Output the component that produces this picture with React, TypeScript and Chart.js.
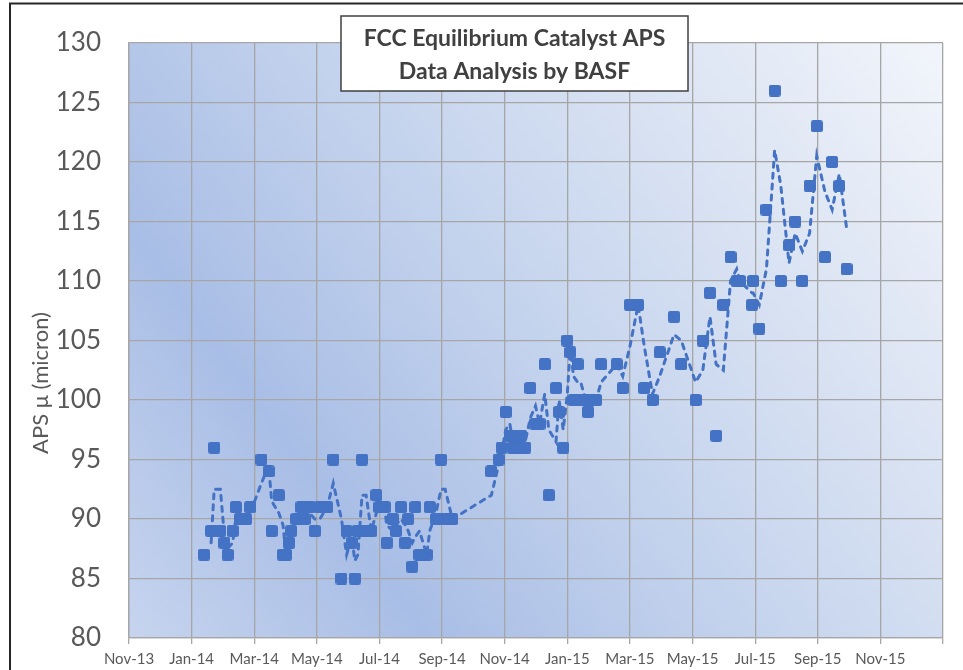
import React, { useEffect, useRef } from "react";
import { Chart, registerables } from "chart.js";

Chart.register(...registerables);

// ---------------- DATA ----------------
const sampleDates: string[] = [
  "2014-01-13", "2014-01-20", "2014-01-23", "2014-01-29", "2014-02-02", "2014-02-05",
  "2014-02-10", "2014-02-13", "2014-02-17", "2014-02-23", "2014-02-27", "2014-03-10",
  "2014-03-17", "2014-03-20", "2014-03-27", "2014-03-31", "2014-04-03", "2014-04-06",
  "2014-04-08", "2014-04-13", "2014-04-18", "2014-04-21", "2014-04-26", "2014-05-01",
  "2014-05-06", "2014-05-13", "2014-05-19", "2014-05-27", "2014-06-01", "2014-06-06",
  "2014-06-09", "2014-06-12", "2014-06-16", "2014-06-20", "2014-06-25", "2014-06-30",
  "2014-07-03", "2014-07-08", "2014-07-10", "2014-07-16", "2014-07-19", "2014-07-24",
  "2014-07-28", "2014-07-31", "2014-08-04", "2014-08-07", "2014-08-11", "2014-08-18",
  "2014-08-21", "2014-08-27", "2014-09-01", "2014-09-05", "2014-09-12",
  "2014-10-20", "2014-10-27", "2014-10-30", "2014-11-03", "2014-11-07", "2014-11-10",
  "2014-11-13", "2014-11-16", "2014-11-18", "2014-11-22", "2014-11-27", "2014-12-02",
  "2014-12-06", "2014-12-11", "2014-12-15", "2014-12-22", "2014-12-25", "2014-12-29",
  "2015-01-02", "2015-01-05", "2015-01-08", "2015-01-12", "2015-01-15", "2015-01-20",
  "2015-01-22", "2015-01-27", "2015-01-30", "2015-02-04", "2015-02-19", "2015-02-25",
  "2015-03-04", "2015-03-12", "2015-03-18", "2015-03-26", "2015-04-02", "2015-04-16",
  "2015-04-23", "2015-05-07", "2015-05-14", "2015-05-21", "2015-05-27", "2015-06-03",
  "2015-06-10", "2015-06-16", "2015-06-19", "2015-07-01", "2015-07-02", "2015-07-08",
  "2015-07-15", "2015-07-23", "2015-07-29", "2015-08-06", "2015-08-12", "2015-08-19",
  "2015-08-26", "2015-09-02", "2015-09-10", "2015-09-17", "2015-09-24", "2015-10-01",
];

const apsValues: number[] = [
  87, 89, 96, 89, 88, 87,
  89, 91, 90, 90, 91, 95,
  94, 89, 92, 87, 87, 88,
  89, 90, 91, 90, 91, 89,
  91, 91, 95, 85, 89, 88,
  85, 89, 95, 89, 89, 92,
  91, 91, 88, 90, 89, 91,
  88, 90, 86, 91, 87, 87,
  91, 90, 95, 90, 90,
  94, 95, 96, 99, 97, 96,
  97, 96, 97, 96, 101, 98,
  98, 103, 92, 101, 99, 96,
  105, 104, 100, 103, 100, 100,
  99, 100, 100, 103, 103, 101,
  108, 108, 101, 100, 104, 107,
  103, 100, 105, 109, 97, 108,
  112, 110, 110, 108, 110, 106,
  116, 126, 110, 113, 115, 110,
  118, 123, 112, 120, 118, 111,
];

const movingAveragePeriod = 2;

const axisStartDate = "2013-11-01";
const xTickStepDays = 61;
const xAxisEndDays = 793;
const yMin = 80;
const yMax = 130;
const yStep = 5;

const titleLines: string[] = ["FCC Equilibrium Catalyst APS", "Data Analysis by BASF"];
const yAxisTitle = "APS μ (micron)";
const monthNames: string[] = ["Jan", "Feb", "Mar", "Apr", "May", "Jun", "Jul", "Aug", "Sep", "Oct", "Nov", "Dec"];

// ---------------- HELPERS ----------------
const DAY_MS = 86400000;
const epoch = Date.parse(axisStartDate + "T00:00:00Z");
const toDays = (s: string) => Math.round((Date.parse(s + "T00:00:00Z") - epoch) / DAY_MS);

const SERIES_COLOR = "#4472C4";
const GRID_COLOR = "#a6a6a6";
const TEXT_COLOR = "#595959";
const FONT = "Lato, 'Open Sans', 'Liberation Sans', sans-serif";
const NARROW_FONT = "'Liberation Sans Narrow', Lato, sans-serif";

function makeMarker(size: number, r: number, color: string): HTMLCanvasElement {
  const c = document.createElement("canvas");
  c.width = size;
  c.height = size;
  const ctx = c.getContext("2d")!;
  ctx.fillStyle = color;
  ctx.beginPath();
  (ctx as any).roundRect(0, 0, size, size, r);
  ctx.fill();
  return c;
}

export default function App() {
  const canvasRef = useRef<HTMLCanvasElement | null>(null);

  useEffect(() => {
    document.body.style.margin = "0";
    const canvas = canvasRef.current;
    if (!canvas) return;

    const points = sampleDates
      .map((d, i) => ({ x: toDays(d), y: apsValues[i] }))
      .sort((a, b) => a.x - b.x);

    const maPoints: { x: number; y: number }[] = [];
    for (let i = movingAveragePeriod - 1; i < points.length; i++) {
      let s = 0;
      for (let k = 0; k < movingAveragePeriod; k++) s += points[i - k].y;
      maPoints.push({ x: points[i].x, y: s / movingAveragePeriod });
    }

    const marker = makeMarker(12, 2.5, SERIES_COLOR);

    const bgPlugin = {
      id: "bgPlugin",
      beforeDraw(chart: any) {
        const { ctx, chartArea: a, width, height } = chart;
        ctx.save();
        ctx.fillStyle = "#ffffff";
        ctx.fillRect(0, 0, width, height);
        const g = ctx.createLinearGradient(a.left, a.bottom, a.right, a.top);
        g.addColorStop(0, "#c6d4ee");
        g.addColorStop(0.24, "#a9bee6");
        g.addColorStop(0.5, "#c4d3ed");
        g.addColorStop(0.78, "#dee6f4");
        g.addColorStop(1, "#f2f5fb");
        ctx.fillStyle = g;
        ctx.fillRect(a.left, a.top, a.right - a.left, a.bottom - a.top);
        ctx.restore();
      },
      afterDraw(chart: any) {
        const { ctx, width, height } = chart;
        ctx.save();
        // title box
        const bx = 341, by = 16, bw = 347, bh = 75;
        ctx.fillStyle = "#ffffff";
        ctx.fillRect(bx, by, bw, bh);
        ctx.strokeStyle = "#404040";
        ctx.lineWidth = 1.5;
        ctx.strokeRect(bx, by, bw, bh);
        ctx.fillStyle = "#404040";
        ctx.font = `bold 23px ${FONT}`;
        ctx.textAlign = "center";
        ctx.textBaseline = "middle";
        ctx.fillText(titleLines[0], bx + bw / 2, 39);
        ctx.fillText(titleLines[1], bx + bw / 2, 72);
        // y-axis title
        ctx.translate(41, 383);
        ctx.rotate(-Math.PI / 2);
        ctx.fillStyle = TEXT_COLOR;
        ctx.font = `22px ${FONT}`;
        ctx.fillText(yAxisTitle, 0, 0);
        ctx.restore();
        // outer frame
        ctx.save();
        ctx.strokeStyle = "#262626";
        ctx.lineWidth = 2;
        ctx.beginPath();
        ctx.moveTo(10, height);
        ctx.lineTo(10, 3.5);
        ctx.lineTo(width, 3.5);
        ctx.stroke();
        ctx.restore();
      },
    };

    const chart = new Chart(canvas, {
      type: "scatter",
      data: {
        datasets: [
          {
            type: "line",
            label: "2 per. Mov. Avg.",
            data: maPoints,
            borderColor: SERIES_COLOR,
            borderWidth: 3,
            borderDash: [5, 6],
            borderCapStyle: "round",
            pointRadius: 0,
            tension: 0,
            fill: false,
            order: 0,
          } as any,
          {
            type: "scatter",
            label: "APS",
            data: points,
            pointStyle: marker as any,
            pointRadius: 6,
            pointHoverRadius: 6,
            order: 1,
          },
        ],
      },
      options: {
        responsive: false,
        devicePixelRatio: 1,
        animation: false,
        events: [],
        layout: { autoPadding: false, padding: { left: 0, right: 20, top: 43, bottom: 0 } },
        plugins: {
          legend: { display: false },
          tooltip: { enabled: false },
          title: { display: false },
        },
        scales: {
          x: {
            type: "linear",
            min: 0,
            max: xAxisEndDays,
            afterFit: (s: any) => {
              s.height = 32;
            },
            ticks: {
              stepSize: xTickStepDays,
              autoSkip: false,
              maxRotation: 0,
              padding: 6,
              color: TEXT_COLOR,
              font: { family: FONT, size: 15 },
              callback: (v: any) => {
                const n = Number(v);
                if (n >= xAxisEndDays) return "";
                const d = new Date(epoch + n * DAY_MS);
                return monthNames[d.getUTCMonth()] + "-" + String(d.getUTCFullYear() % 100).padStart(2, "0");
              },
            },
            grid: { color: GRID_COLOR, lineWidth: 1.3, tickLength: 6, drawTicks: true },
            border: { color: GRID_COLOR, width: 1.3 },
          },
          y: {
            type: "linear",
            min: yMin,
            max: yMax,
            afterFit: (s: any) => {
              s.width = 129;
            },
            ticks: {
              stepSize: yStep,
              padding: 0,
              color: TEXT_COLOR,
              font: { family: NARROW_FONT, size: 26 },
            },
            grid: { color: GRID_COLOR, lineWidth: 1.3, drawTicks: true, tickLength: 28, tickColor: "rgba(0,0,0,0)" },
            border: { color: GRID_COLOR, width: 1.3 },
          },
        },
      },
      plugins: [bgPlugin],
    });

    return () => chart.destroy();
  }, []);

  return <canvas ref={canvasRef} width={963} height={670} style={{ display: "block", width: 963, height: 670 }} />;
}
